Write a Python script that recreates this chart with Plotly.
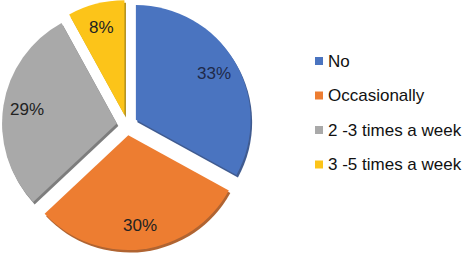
import math
import plotly.graph_objects as go

labels = ["No", "Occasionally", "2 -3 times a week", "3 -5 times a week"]
values = [33, 30, 29, 8]
colors = ["#4a74c0", "#ed7d31", "#a9a9a9", "#fcc419"]
shadow_colors = ["#2c4a85", "#a8541c", "#707070", "#a98300"]
text_colors = ["#1f2a4a", "#222222", "#222222", "#222222"]

W, H = 471, 256
FONT = "Liberation Sans, Arial"
dom_x = [0, 254 / W]
dom_y = [0.023, 1]
pull = 0.09

# shadow copy, offset slightly down/right
fig = go.Figure()
fig.add_trace(go.Pie(
    labels=labels, values=values, sort=False, direction="clockwise", rotation=0,
    marker=dict(colors=shadow_colors, line=dict(width=0)),
    pull=[pull] * len(values), textinfo="none", hoverinfo="skip",
    domain=dict(x=[dom_x[0] + 1.5 / W, dom_x[1] + 1.5 / W], y=[dom_y[0] - 2.5 / H, dom_y[1] - 2.5 / H]),
    showlegend=False, opacity=0.9,
))
fig.add_trace(go.Pie(
    labels=labels, values=values, sort=False, direction="clockwise", rotation=0,
    marker=dict(colors=colors, line=dict(width=0)),
    pull=[pull] * len(values), textinfo="none",
    domain=dict(x=dom_x, y=dom_y),
    showlegend=False, hoverinfo="label+percent",
))

# percentage labels placed along each slice's mid-angle
total = sum(values)
cx = (dom_x[0] + dom_x[1]) / 2 * W
cy = (1 - (dom_y[0] + dom_y[1]) / 2) * H
r_lab = 101
cum = 0
for v, tc in zip(values, text_colors):
    mid = (cum + v / 2) / total * 2 * math.pi
    cum += v
    px = cx + r_lab * math.sin(mid)
    py = cy - r_lab * math.cos(mid)
    fig.add_annotation(xref="paper", yref="paper", x=px / W, y=1 - py / H,
                       text=f"{round(v / total * 100)}%", showarrow=False,
                       xanchor="center", yanchor="middle",
                       font=dict(family=FONT, size=17, color=tc))

# legend drawn as squares + text
leg_x_px, leg_y0_px, leg_dy_px = 315, 61, 34.5
for i, (lab, col) in enumerate(zip(labels, colors)):
    yc = leg_y0_px + i * leg_dy_px
    fig.add_shape(type="rect", xref="paper", yref="paper",
                  x0=leg_x_px / W, x1=(leg_x_px + 8) / W,
                  y0=1 - (yc + 4) / H, y1=1 - (yc - 4) / H,
                  fillcolor=col, line=dict(width=0))
    fig.add_annotation(xref="paper", yref="paper", x=(leg_x_px + 11) / W, y=1 - yc / H,
                       text=lab, showarrow=False, xanchor="left", yanchor="middle",
                       font=dict(family=FONT, size=17, color="#111111"))

fig.update_layout(width=W, height=H, margin=dict(l=0, r=0, t=0, b=0),
                  paper_bgcolor="white", plot_bgcolor="white")
fig.write_html("out.html")
